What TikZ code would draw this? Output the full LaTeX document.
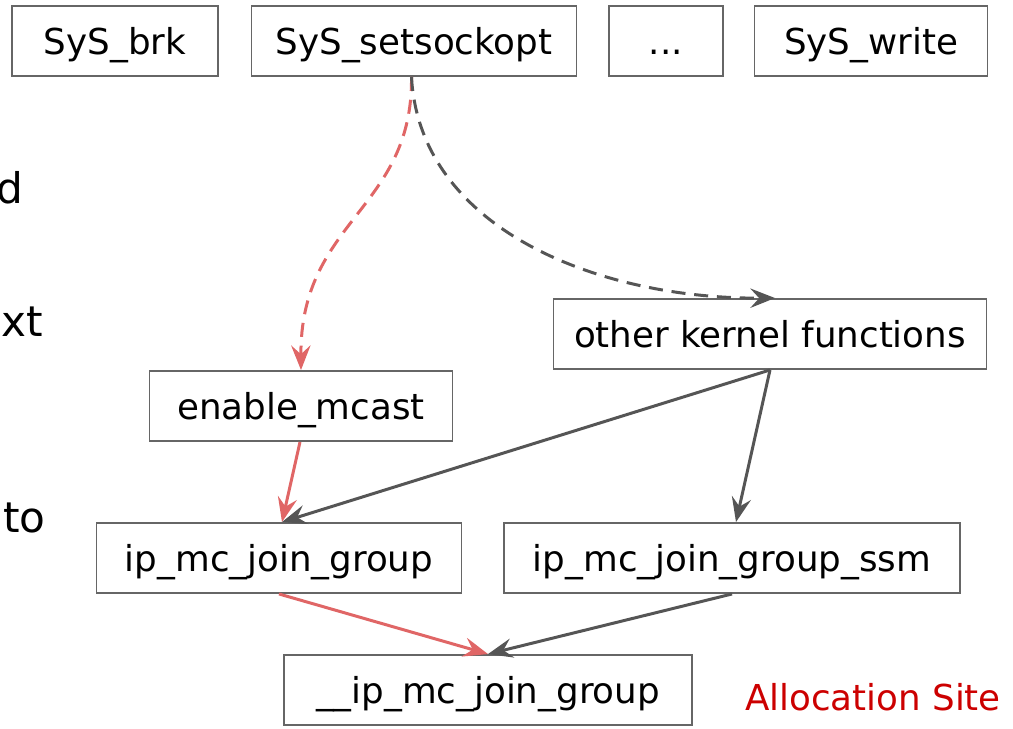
\documentclass[tikz,border=0pt]{standalone}
\usepackage{fontspec}
\setmainfont{DejaVu Sans}
\usetikzlibrary{arrows.meta}
\definecolor{boxgray}{RGB}{102,102,102}
\definecolor{arrowgray}{RGB}{85,85,85}
\definecolor{pathred}{RGB}{224,102,102}
\definecolor{sitered}{RGB}{204,0,0}
\tikzset{
  func/.style={draw=boxgray, line width=1.1pt, minimum height=70*0.2mm, inner sep=0pt, text height=15pt, text depth=0pt, font=\fontsize{20.3}{24}\selectfont},
  call/.style={-{Stealth[length=14pt,width=11pt,inset=5pt]}, line width=1.7pt, draw=arrowgray},
  redcall/.style={call, draw=pathred},
  maycall/.style={dash pattern=on 8pt off 5pt}
}
\begin{document}
\begin{tikzpicture}[x=0.2mm,y=-0.2mm]
                \clip (0,0) rectangle (1013,728);
                % syscalls
                \node[func, minimum width=206*0.2mm] (brk) at (115,41) {SyS\_brk};
                \node[func, minimum width=325*0.2mm] (setsockopt) at (414,41) {SyS\_setsockopt};
                \node[func, minimum width=114*0.2mm] (dots) at (666,41) {...};
                \node[func, minimum width=233*0.2mm] (write) at (871,41) {SyS\_write};
                % kernel functions
                \node[func, minimum width=433*0.2mm] (other) at (770,334) {other kernel functions};
                \node[func, minimum width=303*0.2mm] (mcast) at (301,406) {enable\_mcast};
                \node[func, minimum width=365*0.2mm] (join) at (279,558) {ip\_mc\_join\_group};
                \node[func, minimum width=456*0.2mm] (ssm) at (732,558) {ip\_mc\_join\_group\_ssm};
                \node[func, minimum width=408*0.2mm] (site) at (488,690) {\_\_ip\_mc\_join\_group};
                \node[text=sitered, font=\fontsize{20.3}{24}\selectfont] (sitelabel) at (873,697) {Allocation Site};
                % cut-off text on the left
                \node[anchor=east, font=\fontsize{24}{28}\selectfont] (lineA) at (29,188) {d};
                \node[anchor=east, font=\fontsize{24}{28}\selectfont] (lineB) at (49,322) {xt};
                \node[anchor=east, font=\fontsize{24}{28}\selectfont] (lineC) at (52,518) {to};
                % dashed calls
                \coordinate (start) at ([xshift=-0.5mm]setsockopt.south);
                \draw[redcall, maycall] (start) .. controls (413,210) and (300,220) .. (mcast.north);
                \draw[call, maycall] (start) .. controls (420,230) and (600,299) .. ([xshift=5*0.2mm]other.north);
                % solid calls
                \draw[redcall] ([xshift=-1*0.2mm]mcast.south) -- ([xshift=3*0.2mm]join.north);
                \draw[call] (other.south) -- ([xshift=3*0.2mm]join.north);
                \draw[call] (other.south) -- ([xshift=4*0.2mm]ssm.north);
                \draw[redcall] (join.south) -- (site.north);
                \draw[call] (ssm.south) -- (site.north);
            \end{tikzpicture}
\end{document}
